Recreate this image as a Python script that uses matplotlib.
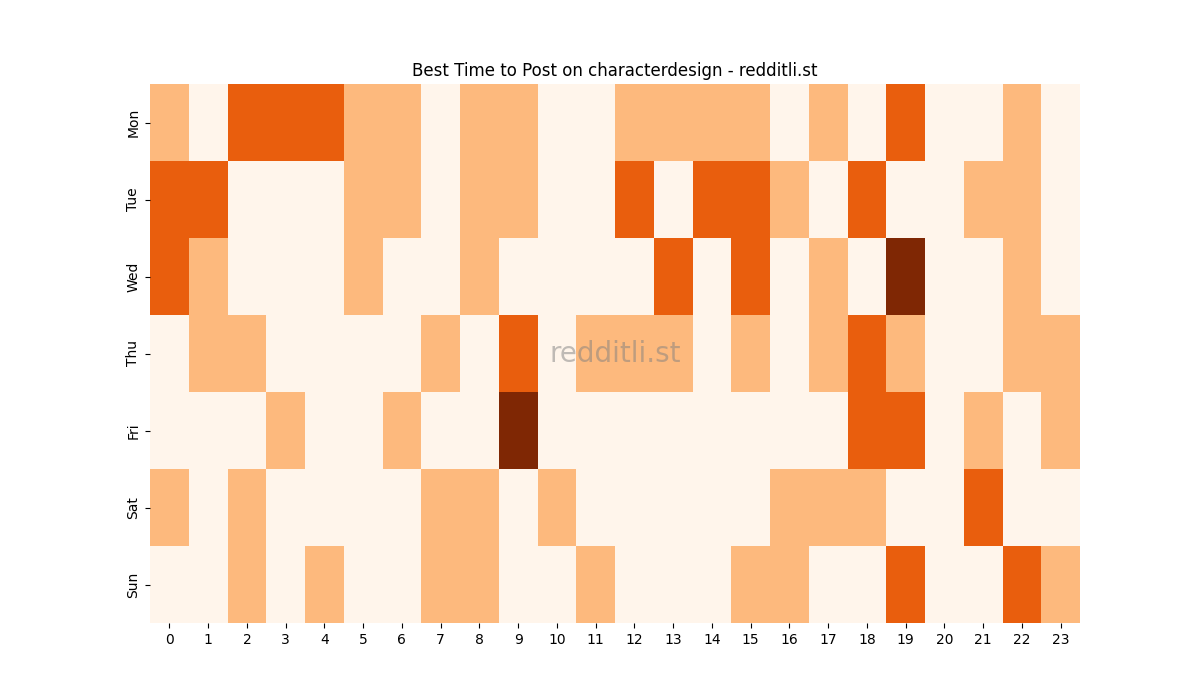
import numpy as np
import pandas as pd
import matplotlib
matplotlib.use("Agg")
import matplotlib.pyplot as plt
import seaborn as sns

days = ["Mon", "Tue", "Wed", "Thu", "Fri", "Sat", "Sun"]
hours = list(range(24))

# activity level per hour (0..3)
mon = [1, 0, 2, 2, 2, 1, 1, 0, 1, 1, 0, 0, 1, 1, 1, 1, 0, 1, 0, 2, 0, 0, 1, 0]
tue = [2, 2, 0, 0, 0, 1, 1, 0, 1, 1, 0, 0, 2, 0, 2, 2, 1, 0, 2, 0, 0, 1, 1, 0]
wed = [2, 1, 0, 0, 0, 1, 0, 0, 1, 0, 0, 0, 0, 2, 0, 2, 0, 1, 0, 3, 0, 0, 1, 0]
thu = [0, 1, 1, 0, 0, 0, 0, 1, 0, 2, 0, 1, 1, 1, 0, 1, 0, 1, 2, 1, 0, 0, 1, 1]
fri = [0, 0, 0, 1, 0, 0, 1, 0, 0, 3, 0, 0, 0, 0, 0, 0, 0, 0, 2, 2, 0, 1, 0, 1]
sat = [1, 0, 1, 0, 0, 0, 0, 1, 1, 0, 1, 0, 0, 0, 0, 0, 1, 1, 1, 0, 0, 2, 0, 0]
sun = [0, 0, 1, 0, 1, 0, 0, 1, 1, 0, 0, 1, 0, 0, 0, 1, 1, 0, 0, 2, 0, 0, 2, 1]

df = pd.DataFrame([mon, tue, wed, thu, fri, sat, sun], index=days, columns=hours)

fig = plt.figure(figsize=(12, 7), dpi=100)
ax = fig.add_subplot(111)
sns.heatmap(df, cmap="Oranges", vmin=0, vmax=3, cbar=False, ax=ax)
ax.set_title("Best Time to Post on characterdesign - redditli.st")
ax.set_yticklabels(days, rotation=90, va="center")
ax.set_xticklabels([str(h) for h in hours], rotation=0)
ax.text(0.5, 0.5, "redditli.st", transform=ax.transAxes, ha="center", va="center",
        fontsize=20, color="gray", alpha=0.5)

fig.savefig("out.png")
